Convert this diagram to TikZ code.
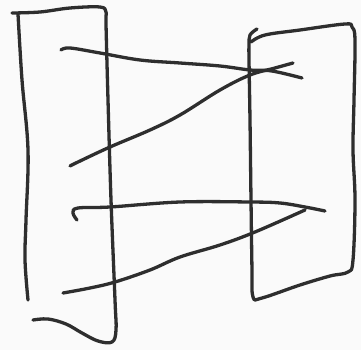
\documentclass[tikz,border=0pt]{standalone}
\begin{document}
\begin{tikzpicture}[x=1pt,y=-1pt,line cap=round,line join=round]
  \tikzstyle{stroke}=[draw=black!82,line width=3.3pt]
  \useasboundingbox[fill=black!2] (0,0) rectangle (361,350);
  % left box
  \draw[stroke] plot[smooth,tension=0.6] coordinates {(12,13) (40,12) (70,8) (100,7) (106,12) (106,24) (108,100) (111,200) (115,300) (116,330) (112,342) (98,341) (82,333) (66,324) (48,319) (33,320)};
  \draw[stroke] plot[smooth,tension=0.6] coordinates {(18,14) (22,80) (28,150) (26,220) (25,260) (28,300)};
  % right box
  \draw[stroke] plot[smooth,tension=0.6] coordinates {(257,29) (250,35) (249,45) (249,60) (250,120) (251,200) (252,270) (253,297) (262,298) (300,285) (330,276) (348,272) (353,260) (355,200) (353,150) (354,100) (355,40) (352,27) (345,24) (300,30) (265,35) (251,42)};
  % zigzag
  \draw[stroke] plot[smooth,tension=0.6] coordinates {(61,50) (70,48) (100,53) (140,60) (180,63) (220,66) (250,70) (272,71) (302,78)};
  \draw[stroke] plot[smooth,tension=0.6] coordinates {(70,166) (78,162) (110,147) (150,130) (180,115) (220,90) (250,75) (275,68) (293,63)};
  \draw[stroke] plot[smooth,tension=0.6] coordinates {(77,220) (73,213) (78,208) (110,207) (180,202) (250,202) (280,203) (305,207) (325,211)};
  \draw[stroke] plot[smooth,tension=0.6] coordinates {(63,293) (90,288) (115,282) (150,270) (180,257) (220,245) (255,232) (305,210)};
\end{tikzpicture}
\end{document}
